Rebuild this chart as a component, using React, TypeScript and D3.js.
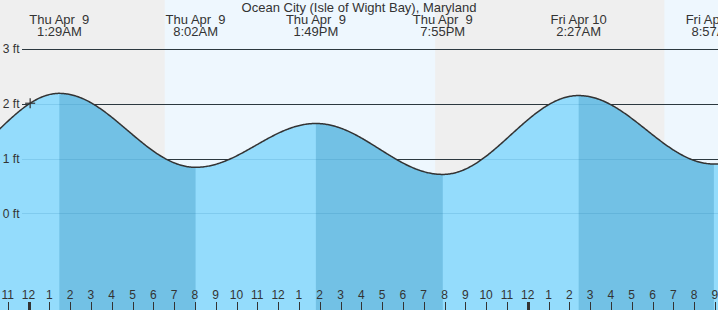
import React from 'react';
import * as d3 from 'd3';

const W = 718;
const H = 310;

const title = 'Ocean City (Isle of Wight Bay), Maryland';

// hours relative to midnight, Thu Apr 9
const extremeHours = [-4.5, 1.483, 8.033, 13.817, 19.917, 26.45, 32.95, 39.3];
const extremeFeet = [0.8, 2.19, 0.84, 1.64, 0.71, 2.15, 0.9, 1.6];
const extremeTypes = ['L', 'H', 'L', 'H', 'L', 'H', 'L', 'H'];
const extremeDays = ['Wed Apr  8', 'Thu Apr  9', 'Thu Apr  9', 'Thu Apr  9', 'Thu Apr  9', 'Fri Apr 10', 'Fri Apr 10', 'Fri Apr 10'];
const extremeTimes = ['7:30PM', '1:29AM', '8:02AM', '1:49PM', '7:55PM', '2:27AM', '8:57AM', '3:20PM'];

// daylight intervals (hours)
const dayStarts = [6.55, 30.57];
const dayEnds = [19.55, 43.5];

const yTicks = [0, 1, 2, 3];
const yTickLabels = ['0 ft', '1 ft', '2 ft', '3 ft'];

const hourTicks = d3.range(-1, 34);
const markerHour = 0.08;

const FONT = '"Liberation Sans", Arial, sans-serif';

function tideAt(h: number): number {
  let i = 0;
  while (i < extremeHours.length - 2 && h > extremeHours[i + 1]) i++;
  const h0 = extremeHours[i];
  const h1 = extremeHours[i + 1];
  const f0 = extremeFeet[i];
  const f1 = extremeFeet[i + 1];
  const t = (h - h0) / (h1 - h0);
  return f0 + (f1 - f0) * (1 - Math.cos(Math.PI * t)) / 2;
}

export default function App() {
  const x = d3.scaleLinear().domain([0, 24]).range([28.5, 527.7]);
  const y = d3.scaleLinear().domain([0, 3]).range([213.3, 49]);

  const hStart = x.invert(-5);
  const hEnd = x.invert(W + 5);
  const samples = d3.range(hStart, hEnd, 0.05).concat([hEnd]);

  const area = d3
    .area<number>()
    .x((h) => x(h))
    .y0(H)
    .y1((h) => y(tideAt(h)));
  const line = d3
    .line<number>()
    .x((h) => x(h))
    .y((h) => y(tideAt(h)));

  const fallingSegments: number[][] = [];
  for (let i = 0; i < extremeHours.length - 1; i++) {
    if (extremeTypes[i] === 'H') {
      const a = extremeHours[i];
      const b = extremeHours[i + 1];
      fallingSegments.push(d3.range(a, b, 0.05).concat([b]));
    }
  }

  const mx = x(markerHour);
  const my = y(tideAt(markerHour));

  const visibleExtremes = extremeHours
    .map((h, i) => i)
    .filter((i) => x(extremeHours[i]) > 0 && x(extremeHours[i]) < W);

  return (
    <svg
      width={W}
      height={H}
      style={{ position: 'absolute', left: 0, top: 0, display: 'block' }}
      fontFamily={FONT}
    >
      <rect x={0} y={0} width={W} height={H} fill="#efefef" />
      {dayStarts.map((s, i) => (
        <rect
          key={'day' + i}
          x={x(s)}
          y={0}
          width={x(dayEnds[i]) - x(s)}
          height={H}
          fill="#eef7fe"
        />
      ))}

      {yTicks.map((v) => (
        <line
          key={'g' + v}
          x1={22}
          x2={W}
          y1={Math.round(y(v)) + 0.5}
          y2={Math.round(y(v)) + 0.5}
          stroke="#333"
          strokeWidth={1}
        />
      ))}

      <path d={area(samples) || ''} fill="#94dcfc" />
      {fallingSegments.map((seg, i) => (
        <path key={'f' + i} d={area(seg) || ''} fill="#72c1e5" />
      ))}

      {yTicks.map((v) => (
        <line
          key={'gf' + v}
          x1={22}
          x2={W}
          y1={Math.round(y(v)) + 0.5}
          y2={Math.round(y(v)) + 0.5}
          stroke="rgba(0,90,150,0.13)"
          strokeWidth={1}
        />
      ))}

      <path d={line(samples) || ''} fill="none" stroke="#333" strokeWidth={1.5} />

      <line x1={mx - 5} x2={mx + 5} y1={my} y2={my} stroke="#333" strokeWidth={1.2} />
      <line x1={mx} x2={mx} y1={my - 5} y2={my + 5} stroke="#333" strokeWidth={1.2} />

      {yTicks.map((v, i) => (
        <text
          key={'yl' + v}
          x={19.5}
          y={y(v) + 4.3}
          textAnchor="end"
          fontSize={12}
          fill="#333"
        >
          {yTickLabels[i]}
        </text>
      ))}

      <text x={359} y={12} textAnchor="middle" fontSize={13} fill="#333">
        {title}
      </text>

      {visibleExtremes.map((i) => (
        <g key={'ex' + i}>
          <text x={x(extremeHours[i])} y={23.5} textAnchor="middle" fontSize={13} fill="#333" style={{ whiteSpace: 'pre' }}>
            {extremeDays[i]}
          </text>
          <text x={x(extremeHours[i])} y={36} textAnchor="middle" fontSize={13} fill="#333">
            {extremeTimes[i]}
          </text>
        </g>
      ))}

      {hourTicks.map((h) => {
        const hr = ((h % 12) + 12) % 12 || 12;
        const isMidnight = ((h % 24) + 24) % 24 === 0;
        const xx = Math.round(x(h)) + 0.5;
        return (
          <g key={'ht' + h}>
            <line
              x1={xx}
              x2={xx}
              y1={302}
              y2={H}
              stroke="#333"
              strokeWidth={isMidnight ? 3 : 1}
            />
            <text x={x(h)} y={299} textAnchor="middle" fontSize={12} fill="#333">
              {String(hr)}
            </text>
          </g>
        );
      })}
    </svg>
  );
}
